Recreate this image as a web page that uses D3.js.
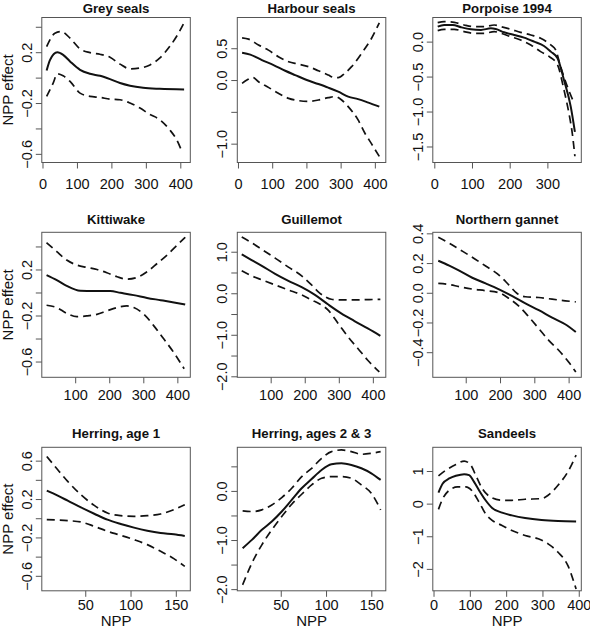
<!DOCTYPE html>
<html><head><meta charset="utf-8">
<script src="https://cdn.jsdelivr.net/npm/d3@7"></script>
<style>
body{margin:0;background:#fff}
svg{display:block}
text{font-family:"Liberation Sans",Arial,Helvetica,sans-serif;fill:#111}
</style>
</head><body>
<svg id="chart" width="590" height="632"></svg>
<script>
// ---------- DATA ----------
const titles = ["Grey seals","Harbour seals","Porpoise 1994","Kittiwake","Guillemot","Northern gannet","Herring, age 1","Herring, ages 2 & 3","Sandeels"];
const xAxisTitle = "NPP";
const yAxisTitle = "NPP effect";

// Grey seals
const greyFit   = [[12,0.056],[22,0.14],[43,0.2],[60,0.179],[80,0.127],[109,0.061],[138,0.03],[167,0.014],[196,-0.012],[225,-0.043],[254,-0.064],[292,-0.08],[340,-0.088],[411,-0.093]];
const greyUpper = [[12,0.244],[36,0.349],[55,0.362],[80,0.31],[109,0.226],[138,0.197],[167,0.184],[196,0.16],[225,0.106],[254,0.069],[283,0.075],[312,0.1],[340,0.153],[369,0.244],[389,0.323],[411,0.433]];
const greyLower = [[12,-0.148],[31,-0.043],[43,0.03],[60,0.014],[80,-0.03],[109,-0.122],[138,-0.148],[167,-0.156],[196,-0.169],[225,-0.174],[254,-0.2],[283,-0.24],[312,-0.29],[340,-0.33],[369,-0.41],[389,-0.487],[406,-0.59]];
const greyXTicks = [0,100,200,300,400];
const greyYTicks = [-0.6,-0.4,-0.2,0,0.2,0.4];
const greyYLabels = ["\u22120.6","","\u22120.2","","0.2",""];

// Harbour seals
const harbourFit   = [[12,0.429],[36,0.40],[70,0.314],[104,0.235],[138,0.146],[167,0.078],[201,0],[235,-0.063],[264,-0.12],[293,-0.183],[322,-0.26],[351,-0.3],[381,-0.355],[413,-0.418]];
const harbourUpper = [[12,0.664],[31,0.643],[60,0.55],[89,0.47],[118,0.366],[148,0.287],[177,0.25],[206,0.21],[235,0.146],[264,0.078],[279,0.042],[293,0.037],[312,0.105],[332,0.21],[361,0.418],[390,0.653],[413,0.9]];
const harbourLower = [[12,-0.052],[26,0],[43,0.042],[60,-0.026],[89,-0.115],[118,-0.209],[148,-0.288],[177,-0.324],[206,-0.335],[235,-0.314],[264,-0.277],[283,-0.26],[303,-0.314],[322,-0.418],[351,-0.627],[371,-0.836],[390,-1.0],[413,-1.2]];
const harbourXTicks = [0,100,200,300,400];
const harbourYTicks = [-1,-0.5,0,0.5];
const harbourYLabels = ["\u22121.0","","0.0","0.5"];

// Porpoise 1994
const porpFit   = [[9,0.214],[26,0.238],[49,0.238],[71,0.205],[97,0.176],[124,0.167],[150,0.19],[163,0.18],[185,0.133],[212,0.095],[238,0.057],[265,0],[291,-0.062],[309,-0.143],[327,-0.238],[344,-0.548],[362,-0.93],[373,-1.29]];
const porpUpper = [[9,0.271],[26,0.286],[53,0.276],[79,0.238],[106,0.214],[132,0.214],[159,0.238],[177,0.214],[203,0.176],[229,0.133],[256,0.095],[282,0.048],[309,-0.048],[322,-0.119],[335,-0.357],[353,-0.643],[371,-0.88]];
const porpLower = [[9,0.157],[26,0.176],[53,0.176],[79,0.143],[106,0.119],[132,0.119],[159,0.143],[177,0.119],[203,0.071],[229,0.024],[256,-0.048],[282,-0.143],[305,-0.214],[327,-0.333],[344,-0.69],[357,-1.02],[366,-1.31],[373,-1.64]];
const porpXTicks = [0,100,200,300];
const porpYTicks = [-1.5,-1,-0.5,0];
const porpYLabels = ["\u22121.5","\u22121.0","\u22120.5","0.0"];

// Kittiwake
const kittiFit   = [[16,0.151],[46,0.107],[75,0.058],[115,0.015],[154,0.012],[203,0.012],[233,-0.003],[272,-0.023],[311,-0.047],[351,-0.067],[390,-0.087],[423,-0.105]];
const kittiUpper = [[16,0.433],[46,0.355],[75,0.282],[105,0.238],[134,0.218],[164,0.2],[193,0.172],[223,0.137],[252,0.116],[282,0.131],[311,0.18],[341,0.253],[370,0.326],[400,0.413],[423,0.48]];
const kittiLower = [[16,-0.111],[46,-0.131],[75,-0.181],[105,-0.21],[134,-0.204],[164,-0.19],[193,-0.16],[223,-0.131],[252,-0.117],[272,-0.131],[302,-0.19],[331,-0.29],[361,-0.407],[390,-0.524],[420,-0.663]];
const kittiXTicks = [100,200,300,400];
const kittiYTicks = [-0.6,-0.4,-0.2,0,0.2,0.4];
const kittiYLabels = ["\u22120.6","","\u22120.2","","0.2",""];

// Guillemot
const guilFit   = [[15,0.935],[44,0.8],[74,0.661],[113,0.468],[152,0.298],[191,0.145],[230,-0.04],[268,-0.266],[307,-0.484],[346,-0.669],[385,-0.847],[422,-1.024]];
const guilUpper = [[15,1.355],[44,1.218],[74,1.056],[113,0.847],[152,0.629],[191,0.419],[220,0.2],[239,0.04],[259,-0.08],[278,-0.145],[307,-0.161],[346,-0.161],[385,-0.153],[422,-0.145]];
const guilLower = [[15,0.54],[44,0.419],[74,0.323],[113,0.2],[152,0.08],[191,-0.04],[220,-0.161],[244,-0.258],[268,-0.4],[298,-0.726],[327,-1.048],[356,-1.33],[385,-1.613],[419,-1.895]];
const guilXTicks = [100,200,300,400];
const guilYTicks = [-2,-1.5,-1,-0.5,0,0.5,1];
const guilYLabels = ["\u22122.0","","\u22121.0","","0.0","","1.0"];

// Northern gannet
const gannFit   = [[20,0.216],[52,0.183],[81,0.149],[119,0.101],[158,0.063],[197,0.023],[236,-0.023],[274,-0.072],[313,-0.117],[352,-0.167],[390,-0.212],[421,-0.264]];
const gannUpper = [[20,0.374],[52,0.334],[81,0.293],[119,0.239],[158,0.18],[197,0.119],[226,0.052],[250,-0.005],[274,-0.027],[313,-0.032],[352,-0.043],[390,-0.054],[421,-0.061]];
const gannLower = [[20,0.063],[52,0.056],[81,0.041],[119,0.025],[158,0.014],[197,0],[226,-0.038],[255,-0.09],[284,-0.162],[313,-0.241],[342,-0.32],[371,-0.387],[400,-0.466],[421,-0.534]];
const gannXTicks = [100,200,300,400];
const gannYTicks = [-0.4,-0.2,0,0.2,0.4];
const gannYLabels = ["\u22120.4","\u22120.2","0.0","0.2","0.4"];

// Herring, age 1
const her1Fit   = [[7.5,0.287],[19.6,0.235],[30.6,0.183],[45.2,0.113],[59.9,0.047],[74.5,-0.015],[89.2,-0.06],[103.8,-0.098],[118.5,-0.13],[133.2,-0.154],[147.8,-0.168],[159.9,-0.185]];
const her1Upper = [[7.5,0.644],[19.6,0.505],[30.6,0.384],[45.2,0.245],[59.9,0.134],[74.5,0.054],[89.2,0.027],[103.8,0.02],[118.5,0.027],[133.2,0.044],[147.8,0.089],[159.9,0.141]];
const her1Lower = [[7.5,-0.015],[19.6,-0.019],[30.6,-0.025],[45.2,-0.039],[59.9,-0.084],[74.5,-0.136],[89.2,-0.178],[103.8,-0.223],[118.5,-0.275],[133.2,-0.345],[147.8,-0.421],[159.9,-0.501]];
const her1XTicks = [50,100,150];
const her1YTicks = [-0.6,-0.4,-0.2,0,0.2,0.4,0.6];
const her1YLabels = ["\u22120.6","","\u22120.2","","0.2","","0.6"];

// Herring, ages 2 & 3
const her23Fit   = [[7.9,-1.166],[18.1,-0.997],[29.1,-0.793],[40.1,-0.624],[51.1,-0.42],[62.1,-0.183],[73.1,0.054],[84.1,0.244],[95.1,0.427],[106,0.542],[117,0.563],[128,0.529],[139,0.461],[150,0.359],[160.3,0.224]];
const her23Upper = [[7.9,-0.407],[18.1,-0.42],[29.1,-0.386],[40.1,-0.285],[51.1,-0.136],[62.1,0.054],[73.1,0.292],[84.1,0.461],[95.1,0.664],[106,0.8],[117,0.834],[128,0.8],[139,0.746],[150,0.766],[160.3,0.8]];
const her23Lower = [[7.9,-1.912],[18.1,-1.471],[29.1,-1.098],[40.1,-0.793],[51.1,-0.522],[62.1,-0.271],[73.1,-0.068],[84.1,0.122],[95.1,0.258],[106,0.292],[117,0.292],[128,0.258],[139,0.122],[150,-0.047],[160.3,-0.386]];
const her23XTicks = [50,100,150];
const her23YTicks = [-2,-1.5,-1,-0.5,0,0.5];
const her23YLabels = ["\u22122.0","","\u22121.0","","0.0",""];

// Sandeels
const sandFit   = [[13.6,0.339],[25.4,0.617],[43.5,0.771],[61.7,0.853],[84.4,0.904],[98,0.874],[111.6,0.668],[125.2,0.411],[143.3,0.103],[161.5,-0.134],[188.7,-0.277],[215.9,-0.36],[252.2,-0.442],[297.5,-0.504],[342.9,-0.534],[392.7,-0.545]];
const sandUpper = [[13.6,0.853],[34.5,1.028],[61.7,1.202],[84.4,1.305],[102.5,1.182],[116.1,0.874],[134.2,0.462],[161.5,0.175],[188.7,0.103],[215.9,0.103],[252.2,0.134],[297.5,0.154],[315.6,0.257],[342.9,0.565],[370.1,0.976],[392.7,1.49]];
const sandLower = [[13.6,-0.175],[25.4,0.154],[43.5,0.411],[66.2,0.514],[88.9,0.514],[107,0.38],[125.2,0.051],[143.3,-0.308],[161.5,-0.514],[188.7,-0.668],[215.9,-0.822],[252.2,-0.976],[288.4,-1.079],[315.6,-1.233],[342.9,-1.49],[370.1,-1.901],[392.7,-2.62]];
const sandXTicks = [0,100,200,300,400];
const sandYTicks = [-2,-1,0,1];
const sandYLabels = ["\u22122","\u22121","0","1"];

// Axis extents (data units) of each panel's plotting box
const greyXDom = [-2,429],  greyYDom = [-0.668,0.473];
const harbourXDom = [-2,432], harbourYDom = [-1.296,0.983];
const porpXDom = [-4,390],  porpYDom = [-1.729,0.345];
const kittiXDom = [2,438],  kittiYDom = [-0.737,0.523];
const guilXDom = [2,438],   guilYDom = [-2.024,1.468];
const gannXDom = [4,437],   gannYDom = [-0.569,0.407];
const her1XDom = [2,166],   her1YDom = [-0.756,0.739];
const her23XDom = [2,166],  her23YDom = [-2.034,0.888];
const sandXDom = [-2,407],  sandYDom = [-2.672,1.727];

// ---------- BUILD ----------
const panels = [
  {fit:greyFit, up:greyUpper, lo:greyLower, xt:greyXTicks, yt:greyYTicks, yl:greyYLabels, xd:greyXDom, yd:greyYDom},
  {fit:harbourFit, up:harbourUpper, lo:harbourLower, xt:harbourXTicks, yt:harbourYTicks, yl:harbourYLabels, xd:harbourXDom, yd:harbourYDom},
  {fit:porpFit, up:porpUpper, lo:porpLower, xt:porpXTicks, yt:porpYTicks, yl:porpYLabels, xd:porpXDom, yd:porpYDom},
  {fit:kittiFit, up:kittiUpper, lo:kittiLower, xt:kittiXTicks, yt:kittiYTicks, yl:kittiYLabels, xd:kittiXDom, yd:kittiYDom},
  {fit:guilFit, up:guilUpper, lo:guilLower, xt:guilXTicks, yt:guilYTicks, yl:guilYLabels, xd:guilXDom, yd:guilYDom},
  {fit:gannFit, up:gannUpper, lo:gannLower, xt:gannXTicks, yt:gannYTicks, yl:gannYLabels, xd:gannXDom, yd:gannYDom},
  {fit:her1Fit, up:her1Upper, lo:her1Lower, xt:her1XTicks, yt:her1YTicks, yl:her1YLabels, xd:her1XDom, yd:her1YDom},
  {fit:her23Fit, up:her23Upper, lo:her23Lower, xt:her23XTicks, yt:her23YTicks, yl:her23YLabels, xd:her23XDom, yd:her23YDom},
  {fit:sandFit, up:sandUpper, lo:sandLower, xt:sandXTicks, yt:sandYTicks, yl:sandYLabels, xd:sandXDom, yd:sandYDom}
];
panels.forEach((p,i)=>p.title = titles[i]);

const svg = d3.select("#chart");
svg.append("rect").attr("width",590).attr("height",632).attr("fill","#fff");

const colLeft = [41.8, 237.3, 432.8];
const rowTop  = [17.5, 232.3, 447.3];
const rowH    = [145, 145, 143.5];
const titleBase = [12.7, 223.5, 437.5];
const xLabBase  = [189, 400.5, 609.8];
const W = 148.5;
const axisColor = "#555";
const tickFont = 14.5;

panels.forEach((p,i)=>{
  const c = i%3, r = Math.floor(i/3);
  const L = colLeft[c], T = rowTop[r], H = rowH[r];
  const x = d3.scaleLinear().domain(p.xd).range([L, L+W]);
  const y = d3.scaleLinear().domain(p.yd).range([T+H, T]);
  const g = svg.append("g");

  // title
  g.append("text").attr("x", L+W/2).attr("y", titleBase[r])
    .attr("text-anchor","middle").attr("font-size",13.2).attr("font-weight","bold")
    .text(p.title);

  // x axis
  const xa = g.append("g").attr("transform",`translate(0,${T+H})`)
    .call(d3.axisBottom(x).tickValues(p.xt).tickSize(6).tickFormat(d3.format("d")));
  xa.select(".domain").remove();
  xa.selectAll(".tick line").attr("stroke",axisColor);
  xa.selectAll(".tick text").attr("y",xLabBase[r]-(T+H)).attr("dy",0)
    .attr("font-size",tickFont).attr("fill","#111")
    .style("font-family",'"Liberation Sans",Arial,sans-serif');

  // y axis
  const ya = g.append("g").attr("transform",`translate(${L},0)`)
    .call(d3.axisLeft(y).tickValues(p.yt).tickSize(6).tickFormat((d,k)=>p.yl[k]));
  ya.select(".domain").remove();
  ya.selectAll(".tick line").attr("stroke",axisColor);
  ya.selectAll(".tick text")
    .attr("x",0).attr("y",-10).attr("dy",0)
    .attr("transform","rotate(-90)")
    .attr("text-anchor","middle")
    .attr("font-size",tickFont).attr("fill","#111")
    .style("font-family",'"Liberation Sans",Arial,sans-serif');

  // box
  g.append("rect").attr("x",L).attr("y",T).attr("width",W).attr("height",H)
    .attr("fill","none").attr("stroke",axisColor).attr("stroke-width",1);

  const line = d3.line().x(d=>x(d[0])).y(d=>y(d[1])).curve(d3.curveMonotoneX);
  g.append("path").attr("d",line(p.up)).attr("fill","none").attr("stroke","#111")
    .attr("stroke-width",1.7).attr("stroke-dasharray","8,5");
  g.append("path").attr("d",line(p.lo)).attr("fill","none").attr("stroke","#111")
    .attr("stroke-width",1.7).attr("stroke-dasharray","8,5");
  g.append("path").attr("d",line(p.fit)).attr("fill","none").attr("stroke","#111")
    .attr("stroke-width",2);

  // axis titles
  if (c===0) {
    const cy = T+H/2;
    svg.append("text").attr("transform",`translate(13,${cy}) rotate(-90)`)
      .attr("text-anchor","middle").attr("font-size",15).text(yAxisTitle);
  }
  if (r===2) {
    svg.append("text").attr("x",L+W/2).attr("y",626)
      .attr("text-anchor","middle").attr("font-size",15).text(xAxisTitle);
  }
});
</script>
</body></html>
